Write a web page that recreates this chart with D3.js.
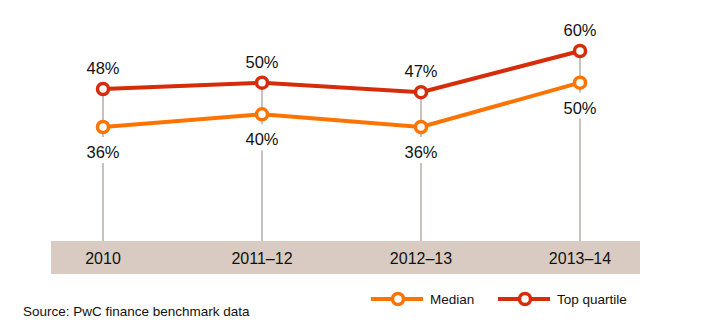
<!DOCTYPE html>
<html>
<head>
<meta charset="utf-8">
<script src="https://cdn.jsdelivr.net/npm/d3@7"></script>
<style>
  body { margin: 0; background: #fff; }
  svg { font-family: "Liberation Sans", Arial, sans-serif; }
</style>
</head>
<body>
<svg width="701" height="330"></svg>
<script>
// data
var periods = ["2010", "2011–12", "2012–13", "2013–14"];
var median = [36, 40, 36, 50];
var topQuartile = [48, 50, 47, 60];
var seriesNames = ["Median", "Top quartile"];
var colors = ["#ff7400", "#d62c0a"];
var source = "Source: PwC finance benchmark data";

var svg = d3.select("svg");

// scales: x picks a spot per period, y maps percent to pixels
var scX = d3.scalePoint().domain(periods).range([103, 580]);
var scY = d3.scaleLinear().domain([0, 60]).range([241, 51]);

// grey category band
svg.append("rect")
    .attr("x", 51).attr("y", 241)
    .attr("width", 589).attr("height", 33)
    .attr("fill", "#d9cbc1");

svg.append("g").selectAll("text")
    .data(periods).enter().append("text")
    .attr("x", d => scX(d)).attr("y", 264)
    .attr("text-anchor", "middle")
    .attr("font-size", 16).attr("fill", "#111")
    .text(d => d);

// vertical drop lines from top point down to the band
svg.append("g").selectAll("line")
    .data(periods).enter().append("line")
    .attr("x1", d => scX(d)).attr("x2", d => scX(d))
    .attr("y1", (d, i) => scY(topQuartile[i]))
    .attr("y2", 241)
    .attr("stroke", "#8f847d").attr("stroke-width", 1);

// white knockouts behind the median labels
svg.append("g").selectAll("rect")
    .data(periods).enter().append("rect")
    .attr("x", d => scX(d) - 24)
    .attr("y", (d, i) => scY(median[i]) + 10)
    .attr("width", 48).attr("height", 26)
    .attr("fill", "#fff");

var series = [median, topQuartile];
var lineMaker = d3.line()
    .x((d, i) => scX(periods[i]))
    .y(d => scY(d));

series.forEach(function(vals, s) {
    var g = svg.append("g");
    g.append("path")
        .attr("d", lineMaker(vals))
        .attr("fill", "none")
        .attr("stroke", colors[s])
        .attr("stroke-width", 4);
    g.selectAll("circle")
        .data(vals).enter().append("circle")
        .attr("cx", (d, i) => scX(periods[i]))
        .attr("cy", d => scY(d))
        .attr("r", 5.5)
        .attr("fill", "#fff")
        .attr("stroke", colors[s])
        .attr("stroke-width", 3.5);
    // median labels sit below, top quartile labels above
    g.selectAll("text")
        .data(vals).enter().append("text")
        .attr("x", (d, i) => scX(periods[i]))
        .attr("y", d => s === 0 ? scY(d) + 31 : scY(d) - 15)
        .attr("text-anchor", "middle")
        .attr("font-size", 16.5).attr("fill", "#111")
        .text(d => d + "%");
});

// legend
var legX = [371, 498];
seriesNames.forEach(function(name, s) {
    var lg = svg.append("g").attr("transform", "translate(" + legX[s] + ",299)");
    lg.append("line")
        .attr("x1", 0).attr("x2", 52)
        .attr("stroke", colors[s]).attr("stroke-width", 4);
    lg.append("circle")
        .attr("cx", 27).attr("r", 5.5)
        .attr("fill", "#fff")
        .attr("stroke", colors[s]).attr("stroke-width", 3.5);
    lg.append("text")
        .attr("x", 59).attr("y", 5)
        .attr("font-size", 13.5).attr("fill", "#111")
        .text(name);
});

svg.append("text")
    .attr("x", 23).attr("y", 316)
    .attr("font-size", 13.5).attr("fill", "#111")
    .text(source);
</script>
</body>
</html>
